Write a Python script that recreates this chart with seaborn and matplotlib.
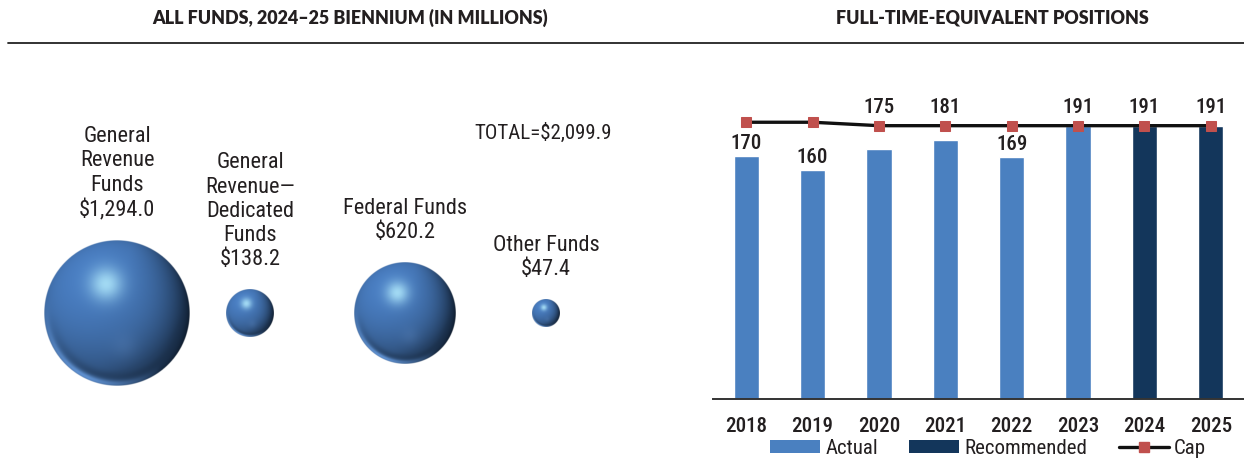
import numpy as np
import pandas as pd
import seaborn as sns
import matplotlib
matplotlib.use("Agg")
import matplotlib.pyplot as plt
from matplotlib.lines import Line2D
from matplotlib.patches import Patch
from matplotlib import font_manager

# ---------------- data ----------------
fund_names = ["General\nRevenue\nFunds", "General\nRevenue\u2014\nDedicated\nFunds",
              "Federal Funds", "Other Funds"]
fund_values = [1294.0, 138.2, 620.2, 47.4]
fund_total = 2099.9

years = ["2018", "2019", "2020", "2021", "2022", "2023", "2024", "2025"]
fte_values = [170, 160, 175, 181, 169, 191, 191, 191]
fte_status = ["Actual"] * 6 + ["Recommended"] * 2
cap_values = [193.4, 193.4, 191, 191, 191, 191, 191, 191]

# ---------------- style ----------------
sns.set_theme(style="white")
avail = {f.name for f in font_manager.fontManager.ttflist}
cond = [f for f in ["Roboto Condensed", "Liberation Sans Narrow", "DejaVu Sans Condensed"] if f in avail]
fam = cond + ["DejaVu Sans"]
plt.rcParams["font.family"] = fam
title_fam = [f for f in ["Lato", "Open Sans"] if f in avail] + ["DejaVu Sans"]
TXT = "#231f20"
C_ACT = "#4a80c0"
C_REC = "#13365b"
C_CAP = "#c0504d"
FS = 15

W, H = 1244, 460
fig = plt.figure(figsize=(W / 100, H / 100), dpi=100)

# titles and rule
fig.text(350 / W, 1 - 18 / H, "ALL FUNDS, 2024\u201325 BIENNIUM (IN MILLIONS)", ha="center", va="center",
         fontsize=12.9, fontweight="heavy", color=TXT, family=title_fam)
fig.text(992 / W, 1 - 18 / H, "FULL-TIME-EQUIVALENT POSITIONS", ha="center", va="center",
         fontsize=12.9, fontweight="heavy", color=TXT, family=title_fam)
fig.add_artist(Line2D([8 / W, 1], [1 - 44 / H, 1 - 44 / H], transform=fig.transFigure,
                      color="#222222", lw=1.3))

# ---------------- left: spheres ----------------
axL = fig.add_axes([0, 0, 660 / W, 1])
axL.axis("off")

bubble_x = [117, 250, 405, 546]
bubble_y = 314
k = 73 / np.sqrt(max(fund_values))


def sphere_rgba(n=400):
    u = np.linspace(-1, 1, n)
    X, Y = np.meshgrid(u, u)
    R2 = X ** 2 + Y ** 2
    R = np.sqrt(R2)
    Z = np.sqrt(np.clip(1 - R2, 0, 1))
    base = np.array([0.28, 0.48, 0.74])
    L = np.array([-0.35, -0.55, 0.76])
    L = L / np.linalg.norm(L)
    diff = np.clip(X * L[0] + Y * L[1] + Z * L[2], 0, 1)
    col = base[None, None, :] * (0.64 + 0.40 * diff)[..., None]
    dark = np.clip(X * 0.95 + Y * 0.25 + 0.05, 0, 1) ** 1.3 * (1 - Z) ** 0.9
    dcol = np.array([0.03, 0.07, 0.12])
    col = col * (1 - 0.92 * dark[..., None]) + dcol * 0.92 * dark[..., None]
    band2 = np.exp(-((R - 0.87) ** 2) / 0.004) * np.clip(Y, 0, 1)
    col = col * (1 - 0.15 * band2[..., None])
    rim = np.exp(-((R - 0.97) ** 2) / 0.002) * np.clip(Y + 0.2, 0, 1) * np.clip(0.6 - X, 0, 1)
    rcol = np.array([0.42, 0.63, 0.9])
    col = col * (1 - 0.8 * rim[..., None]) + rcol * 0.8 * rim[..., None]
    soft = np.exp(-((X - 0.1) ** 2 + (Y - 0.45) ** 2) / 0.03)
    col = col * (1 - 0.15 * soft[..., None]) + np.array([0.45, 0.62, 0.85]) * 0.15 * soft[..., None]
    h = np.exp(-((X + 0.15) ** 2 + (Y + 0.4) ** 2) / 0.05)
    hcol = np.array([0.68, 0.9, 0.98])
    col = col * (1 - 0.88 * h[..., None]) + hcol * 0.88 * h[..., None]
    alpha = np.clip((1 - R) * n / 2, 0, 1)
    return np.dstack([np.clip(col, 0, 1), alpha])


img = sphere_rgba()
for name, val, cx in zip(fund_names, fund_values, bubble_x):
    r = k * np.sqrt(val)
    axL.imshow(img, extent=(cx - r, cx + r, bubble_y + r, bubble_y - r), origin="upper",
               interpolation="bilinear", zorder=2)
    label = f"{name}\n${val:,.1f}"
    axL.text(cx, bubble_y - r - 20, label, ha="center", va="bottom", fontsize=16,
             color=TXT, linespacing=1.2)
axL.set_xlim(0, 660)
axL.set_ylim(460, 0)
axL.set_aspect("auto")
axL.text(543, 133, f"TOTAL=${fund_total:,.1f}", ha="center", va="center", fontsize=FS,
         color=TXT)

# ---------------- right: FTE bars ----------------
y_top = 230
px_per = 1.431
ax_h = y_top * px_per
axR = fig.add_axes([713 / W, 60 / H, (W - 713) / W, ax_h / H])
df = pd.DataFrame({"year": years, "fte": fte_values, "status": fte_status})
sns.barplot(data=df, x="year", y="fte", hue="status", dodge=False, width=0.38,
            palette={"Actual": C_ACT, "Recommended": C_REC}, ax=axR, legend=False,
            saturation=1, zorder=2)
xs = np.arange(len(years))
sns.lineplot(x=xs, y=cap_values, color="#111111", lw=2.4, marker="s", markersize=7.5,
             markerfacecolor=C_CAP, markeredgecolor=C_CAP, ax=axR, zorder=4)
axR.set_xlim(-0.5, 7.44)
axR.set_ylim(0, y_top)
for s in ["top", "right", "left"]:
    axR.spines[s].set_visible(False)
axR.spines["bottom"].set_color("#333333")
axR.spines["bottom"].set_linewidth(1.4)
axR.set_yticks([])
axR.set_xlabel("")
axR.set_ylabel("")
axR.set_xticks(xs)
axR.set_xticklabels(years, fontsize=FS, color=TXT, fontweight="medium")
axR.tick_params(axis="x", which="major", length=0, pad=12)
axR.set_xticks(np.arange(-0.5, 8, 1), minor=True)
axR.tick_params(axis="x", which="minor", length=4, width=1, color="#888888", direction="out")

for i, (v, c) in enumerate(zip(fte_values, cap_values)):
    if (c - v) * px_per < 28:
        axR.annotate(f"{v}", (i, c), xytext=(0, 7), textcoords="offset points",
                     ha="center", va="bottom", fontsize=FS, color=TXT, fontweight="medium")
    else:
        axR.annotate(f"{v}", (i, v), xytext=(0, 3), textcoords="offset points",
                     ha="center", va="bottom", fontsize=FS, color=TXT, fontweight="medium")

handles = [Patch(facecolor=C_ACT, edgecolor="none", label="Actual"),
           Patch(facecolor=C_REC, edgecolor="none", label="Recommended"),
           Line2D([0], [0], color="#111111", lw=2.4, marker="s", markersize=7.5,
                  markerfacecolor=C_CAP, markeredgecolor=C_CAP, label="Cap")]
leg = fig.legend(handles=handles, loc="center", bbox_to_anchor=(988 / W, 11 / H), ncol=3,
                 frameon=False, handlelength=2.4, handleheight=0.6,
                 handletextpad=0.25, columnspacing=1.5, labelcolor=TXT,
                 prop={"size": 15})

fig.savefig("out.png", dpi=100)
